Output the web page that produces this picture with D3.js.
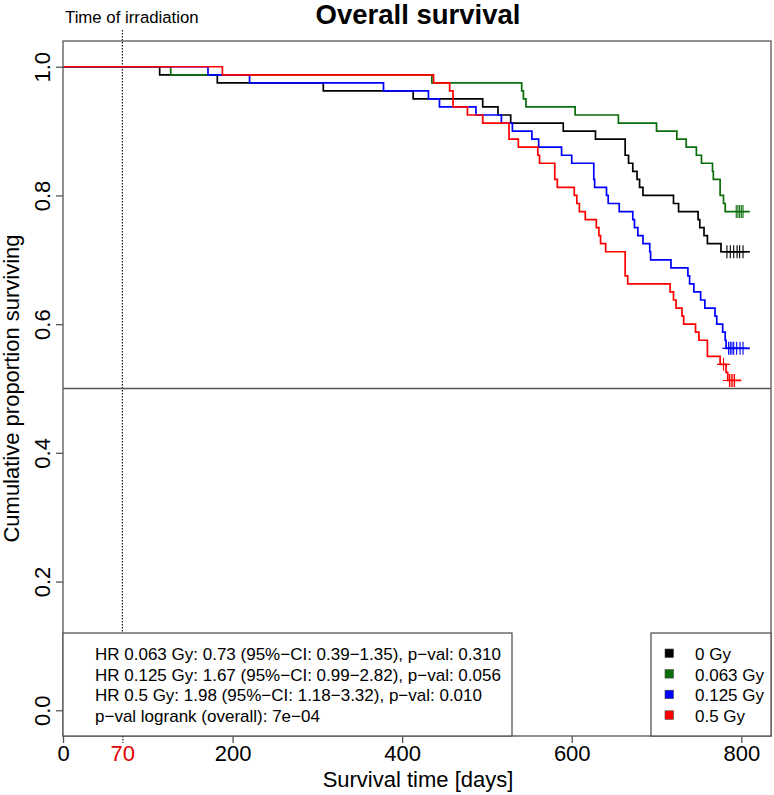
<!DOCTYPE html>
<html>
<head>
<meta charset="utf-8">
<script src="https://cdn.jsdelivr.net/npm/d3@7"></script>
<style>
  html, body { margin: 0; padding: 0; background: #fff; }
  svg { display: block; font-family: "Liberation Sans", Arial, Helvetica, sans-serif; }
</style>
</head>
<body>
<svg id="chart" width="774" height="795"></svg>
<script>
// ---------------- data ----------------
const groups = ["0 Gy", "0.063 Gy", "0.125 Gy", "0.5 Gy"];

const times0 = [0,114,182,307,413,495,513,528,590,628,663,667,672,677,680,684,720,726,749,751,756,760,776,810];
const surv0  = [1,0.9875,0.975,0.9625,0.95,0.9375,0.925,0.9125,0.9,0.8875,0.8625,0.85,0.8375,0.825,0.8125,0.8,0.7875,0.775,0.7625,0.75,0.7375,0.725,0.7125,0.7125];
const censor0 = [783,787,791,795,798,802];

const times1 = [0,127,435,541,543,546,604,655,700,724,735,747,753,766,767,775,779,781,810];
const surv1  = [1,0.9875,0.975,0.9625,0.95,0.9375,0.925,0.9125,0.9,0.8875,0.875,0.8625,0.85,0.8375,0.825,0.8,0.7875,0.775,0.775];
const censor1 = [794,796,798,800,802];

const times2 = [0,171,220,378,431,444,487,517,530,553,561,588,600,626,627,641,643,656,672,674,678,684,692,693,717,737,739,744,752,757,769,771,778,781,782,810];
const surv2  = [1,0.9875,0.975,0.9625,0.95,0.9375,0.925,0.9125,0.9,0.8875,0.875,0.8625,0.85,0.825,0.8125,0.8,0.7875,0.775,0.7625,0.75,0.7375,0.725,0.7125,0.7,0.6875,0.675,0.6625,0.65,0.6375,0.625,0.6125,0.6,0.5875,0.575,0.5625,0.5625];
const censor2 = [785,787,789,791,794.5,798.5,802];

const times3 = [0,188,437,456,460,477,495,526,537,560,562,580,583,603,606,609,616,629,632,634,640,663,666,716,720,723,730,732,746,750,760,775,782,784,800];
const surv3  = [1,0.9875,0.975,0.9625,0.9375,0.925,0.9125,0.8875,0.875,0.8625,0.85,0.825,0.8125,0.8,0.7875,0.775,0.7625,0.75,0.7375,0.725,0.7125,0.675,0.6625,0.65,0.6375,0.625,0.6125,0.6,0.5875,0.575,0.55,0.5375,0.525,0.5125,0.5125];
const censor3 = [779,786,788,790,792];

const xTicks = [0, 200, 400, 600, 800];
const yTicks = [0, 0.2, 0.4, 0.6, 0.8, 1.0];
const irradiationDay = 70;
const medianLine = 0.5;

const hrLines = [
  "HR 0.063 Gy: 0.73 (95%\u2212CI: 0.39\u22121.35), p\u2212val: 0.310",
  "HR 0.125 Gy: 1.67 (95%\u2212CI: 0.99\u22122.82), p\u2212val: 0.056",
  "HR 0.5 Gy: 1.98 (95%\u2212CI: 1.18\u22123.32), p\u2212val: 0.010",
  "p\u2212val logrank (overall): 7e\u221204"
];

// ---------------- layout / style ----------------
const colors = ["#000000", "#0a6e0a", "#0000ff", "#ff0000"];
const series = [
  {times: times0, surv: surv0, censor: censor0},
  {times: times1, surv: surv1, censor: censor1},
  {times: times2, surv: surv2, censor: censor2},
  {times: times3, surv: surv3, censor: censor3}
];

const L = 63, R = 771, T = 41, B = 736;
const frame = "#555555";
const svg = d3.select("#chart");

const x = d3.scaleLinear().domain([0, 835]).range([L, R]);
const y = d3.scaleLinear().domain([-0.04, 1.04]).range([B, T]);

// title
svg.append("text").attr("x", 418).attr("y", 24).attr("text-anchor", "middle")
  .attr("font-size", 27.5).attr("font-weight", "bold").text("Overall survival");

svg.append("text").attr("x", 65).attr("y", 23).attr("font-size", 16.8)
  .text("Time of irradiation");

// dotted irradiation line
svg.append("line").attr("x1", x(irradiationDay)).attr("x2", x(irradiationDay))
  .attr("y1", 30).attr("y2", B)
  .attr("stroke", "#000").attr("stroke-width", 1.1).attr("stroke-dasharray", "1.5,1.5");

// 0.5 line
svg.append("line").attr("x1", L).attr("x2", R).attr("y1", y(medianLine)).attr("y2", y(medianLine))
  .attr("stroke", frame).attr("stroke-width", 1.3);

// curves
const line = d3.line().curve(d3.curveStepAfter).x(d => x(d[0])).y(d => y(d[1]));
series.forEach((s, i) => {
  const pts = s.times.map((t, j) => [t, s.surv[j]]);
  svg.append("path").datum(pts).attr("d", line)
    .attr("fill", "none").attr("stroke", colors[i]).attr("stroke-width", 1.7);
  const bis = d3.bisector(d => d).right;
  s.censor.forEach(t => {
    const k = Math.max(0, bis(s.times, t) - 1);
    const cx = x(t), cy = y(s.surv[k]);
    svg.append("path")
      .attr("d", `M${cx - 6.5},${cy}H${cx + 6.5}M${cx},${cy - 6.5}V${cy + 6.5}`)
      .attr("stroke", colors[i]).attr("stroke-width", 1.1).attr("fill", "none");
  });
});

// frame
svg.append("rect").attr("x", L).attr("y", T).attr("width", R - L).attr("height", B - T)
  .attr("fill", "none").attr("stroke", frame).attr("stroke-width", 1.3);

// x axis
const gx = svg.append("g").attr("transform", `translate(0,${B})`)
  .call(d3.axisBottom(x).tickValues(xTicks).tickFormat(d3.format("d")).tickSize(7).tickPadding(2));
gx.select(".domain").remove();
gx.selectAll(".tick line").attr("stroke", frame).attr("stroke-width", 1.3);
gx.selectAll(".tick text").attr("font-size", 22).attr("fill", "#000")
  .attr("font-family", "Liberation Sans, Arial, sans-serif");

const g70 = svg.append("g").attr("transform", `translate(0,${B})`)
  .call(d3.axisBottom(x).tickValues([irradiationDay]).tickFormat(d3.format("d")).tickSize(7).tickPadding(2));
g70.select(".domain").remove();
g70.selectAll(".tick line").attr("stroke", "#000").attr("stroke-width", 1.1).attr("stroke-dasharray", "1.5,1.5");
g70.selectAll(".tick text").attr("font-size", 22).attr("fill", "#e00000")
  .attr("font-family", "Liberation Sans, Arial, sans-serif");

// y axis
const gy = svg.append("g").attr("transform", `translate(${L},0)`)
  .call(d3.axisLeft(y).tickValues(yTicks).tickFormat(d3.format(".1f")).tickSize(7));
gy.select(".domain").remove();
gy.selectAll(".tick line").attr("stroke", frame).attr("stroke-width", 1.3);
gy.selectAll(".tick text").attr("x", null).attr("dy", null)
  .attr("text-anchor", "middle").attr("transform", "translate(-13,0) rotate(-90)")
  .attr("font-size", 22).attr("fill", "#000")
  .attr("font-family", "Liberation Sans, Arial, sans-serif");

// axis titles
svg.append("text").attr("x", 418).attr("y", 787).attr("text-anchor", "middle")
  .attr("font-size", 22).text("Survival time [days]");
svg.append("text").attr("transform", `translate(19,${(T + B) / 2}) rotate(-90)`)
  .attr("text-anchor", "middle").attr("font-size", 22).text("Cumulative proportion surviving");

// HR box
const boxTop = 633;
svg.append("rect").attr("x", L).attr("y", boxTop).attr("width", 512 - L).attr("height", B - boxTop)
  .attr("fill", "#fff").attr("stroke", frame).attr("stroke-width", 1.3);
hrLines.forEach((t, i) => {
  svg.append("text").attr("x", 95).attr("y", 660 + i * 20.6).attr("font-size", 17).text(t);
});

// legend box
svg.append("rect").attr("x", 651).attr("y", boxTop).attr("width", R - 651).attr("height", B - boxTop)
  .attr("fill", "#fff").attr("stroke", frame).attr("stroke-width", 1.3);
groups.forEach((g, i) => {
  const by = 660 + i * 20.6;
  svg.append("rect").attr("x", 665).attr("y", by - 11).attr("width", 8.5).attr("height", 8.5)
    .attr("fill", colors[i]).attr("stroke", "#444").attr("stroke-width", 0.6);
  svg.append("text").attr("x", 695).attr("y", by).attr("font-size", 17).text(g);
});
</script>
</body>
</html>
